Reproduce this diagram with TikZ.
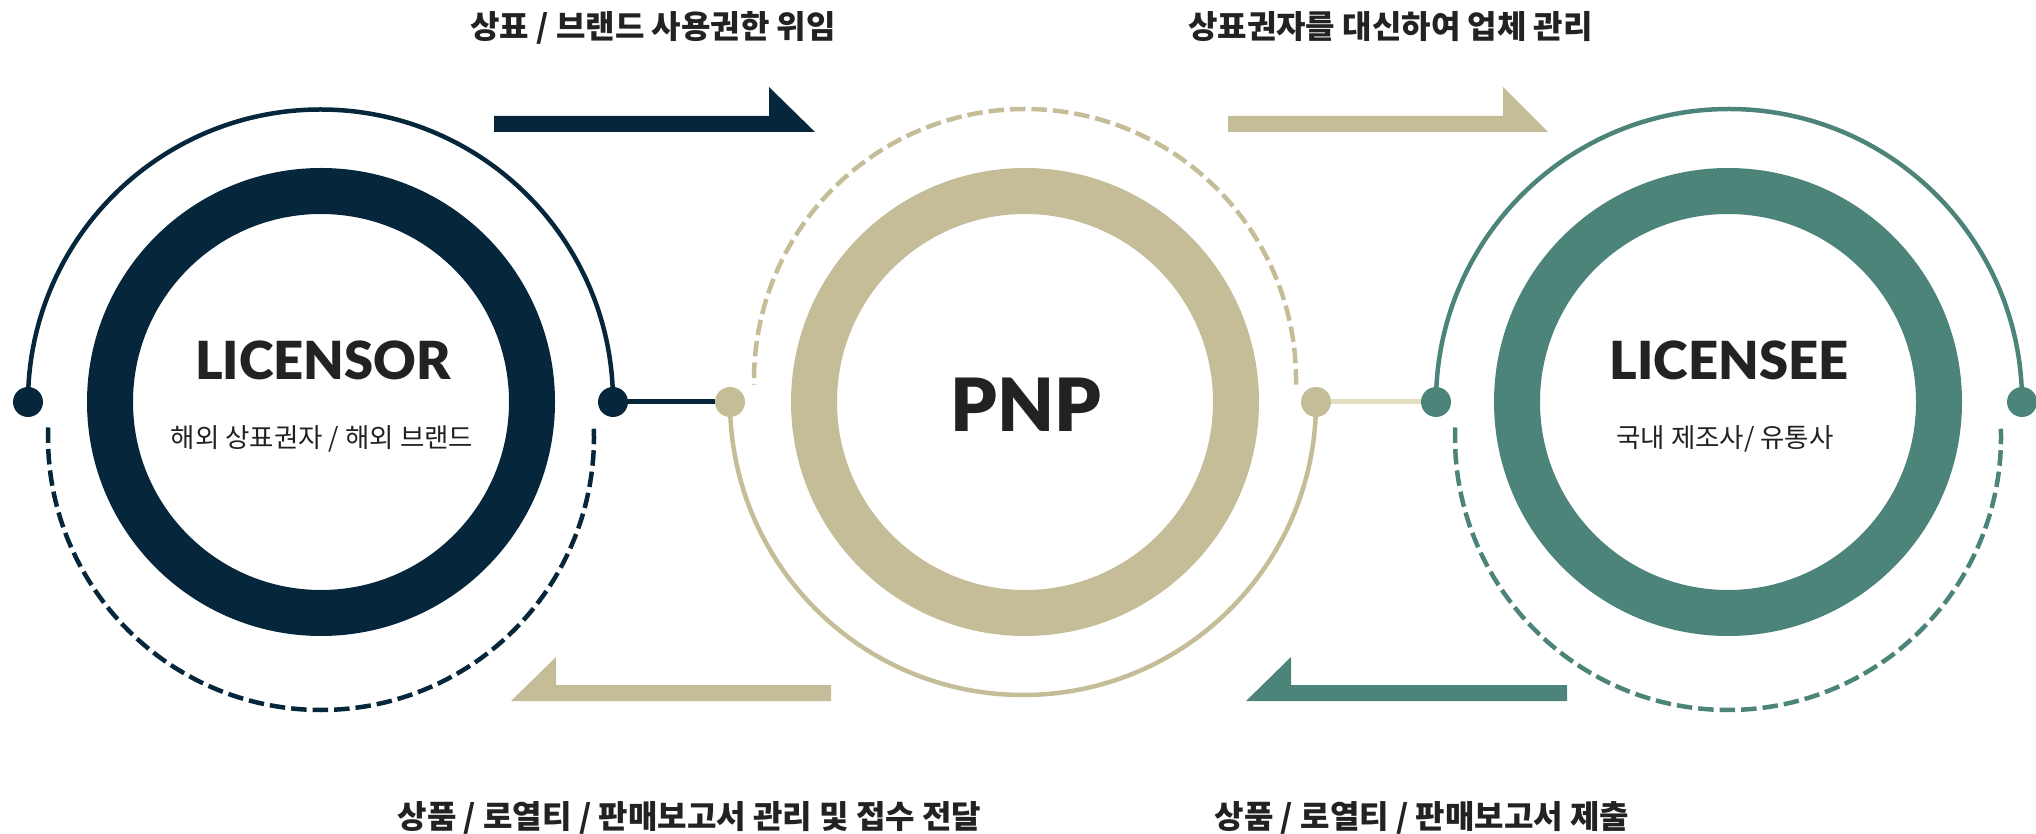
\documentclass[tikz,border=0pt]{standalone}
\usepackage{fontspec}
\newfontfamily\kr{Noto Sans CJK KR}
\newfontfamily\lato{Lato}[BoldFont={Lato Black}]
\definecolor{navy}{HTML}{06263B}
\definecolor{beige}{HTML}{C5BD97}
\definecolor{teal}{HTML}{4C8479}
\definecolor{lightbeige}{HTML}{E2DEC0}
\definecolor{txt}{HTML}{222222}
\tikzset{
  ring/.style={circle, draw=#1, line width=46pt, minimum size=422pt, inner sep=0pt, outer sep=0pt},
  dotnode/.style={circle, fill=#1, minimum size=30pt, inner sep=0pt, outer sep=0pt},
  thinarc/.style={draw=#1, line width=4.5pt},
  dasharc/.style={draw=#1, line width=4.5pt, dash pattern=on 15.5pt off 6pt},
  link/.style={draw=#1, line width=5pt},
  flow/.style={fill=#1},
  nametext/.style={font=\lato\bfseries\fontsize{52.5}{52.5}\selectfont, text=txt, anchor=base, inner sep=0pt},
  subtext/.style={font=\kr\fontsize{26.5}{26.5}\selectfont, text=txt, anchor=base, inner sep=0pt},
  flowlabel/.style={font=\kr\bfseries\fontsize{32}{32}\selectfont, text=txt, anchor=base, inner sep=0pt},
}
\begin{document}
\begin{tikzpicture}[x=1pt,y=1pt]
\useasboundingbox (0,0) rectangle (2036,833);
% rings
\node[ring=navy] (licensor) at (321,431) {};
\node[ring=beige] (pnp) at (1025,431) {};
\node[ring=teal] (licensee) at (1728,431) {};
% outer arcs
\draw[thinarc=navy] (28,431) arc[start angle=180, end angle=0, radius=292.5pt];
\draw[dasharc=navy] (321,396) ++(178:273pt) arc[start angle=178, end angle=362, radius=273pt];
\draw[thinarc=beige] (730,431) arc[start angle=180, end angle=360, radius=293pt];
\draw[dasharc=beige] (1025,453) ++(-1:271pt) arc[start angle=-1, end angle=181, radius=271pt];
\draw[thinarc=teal] (1436,431) arc[start angle=180, end angle=0, radius=293pt];
\draw[dasharc=teal] (1728,396) ++(178:273pt) arc[start angle=178, end angle=362, radius=273pt];
% dots
\node[dotnode=navy] (d1l) at (28,431) {};
\node[dotnode=navy] (d1r) at (613,431) {};
\node[dotnode=beige] (d2l) at (730,431) {};
\node[dotnode=beige] (d2r) at (1316,431) {};
\node[dotnode=teal] (d3l) at (1436,431) {};
\node[dotnode=teal] (d3r) at (2022,431) {};
% links
\draw[link=navy] (d1r) -- (d2l);
\draw[link=lightbeige] (d2r) -- (d3l);
% flow arrows
\fill[flow=navy] (494,717) -- (769,717) -- (769,746) -- (815,701) -- (494,701) -- cycle;
\fill[flow=beige] (1228,717) -- (1503,717) -- (1503,746) -- (1548,701) -- (1228,701) -- cycle;
\fill[flow=beige] (831,148) -- (556,148) -- (556,176) -- (511,132) -- (831,132) -- cycle;
\fill[flow=teal] (1567,148) -- (1291,148) -- (1291,176) -- (1246,132) -- (1567,132) -- cycle;
% texts
\node[nametext] (t1) at (323,453.5) {LICENSOR};
\node[subtext] (s1) at (322,385) {해외 상표권자 / 해외 브랜드};
\node[nametext, font=\lato\bfseries\fontsize{73.5}{73.5}\selectfont] (t2) at (1026,401.6) {PNP};
\node[nametext] (t3) at (1729,453.5) {LICENSEE};
\node[subtext] (s3) at (1725,385) {국내 제조사/ 유통사};
\node[flowlabel] (c1) at (653,794) {상표 / 브랜드 사용권한 위임};
\node[flowlabel] (c2) at (1390.5,794) {상표권자를 대신하여 업체 관리};
\node[flowlabel] (c3) at (689.5,5) {상품 / 로열티 / 판매보고서 관리 및 접수 전달};
\node[flowlabel] (c4) at (1422,5) {상품 / 로열티 / 판매보고서 제출};
\end{tikzpicture}
\end{document}
